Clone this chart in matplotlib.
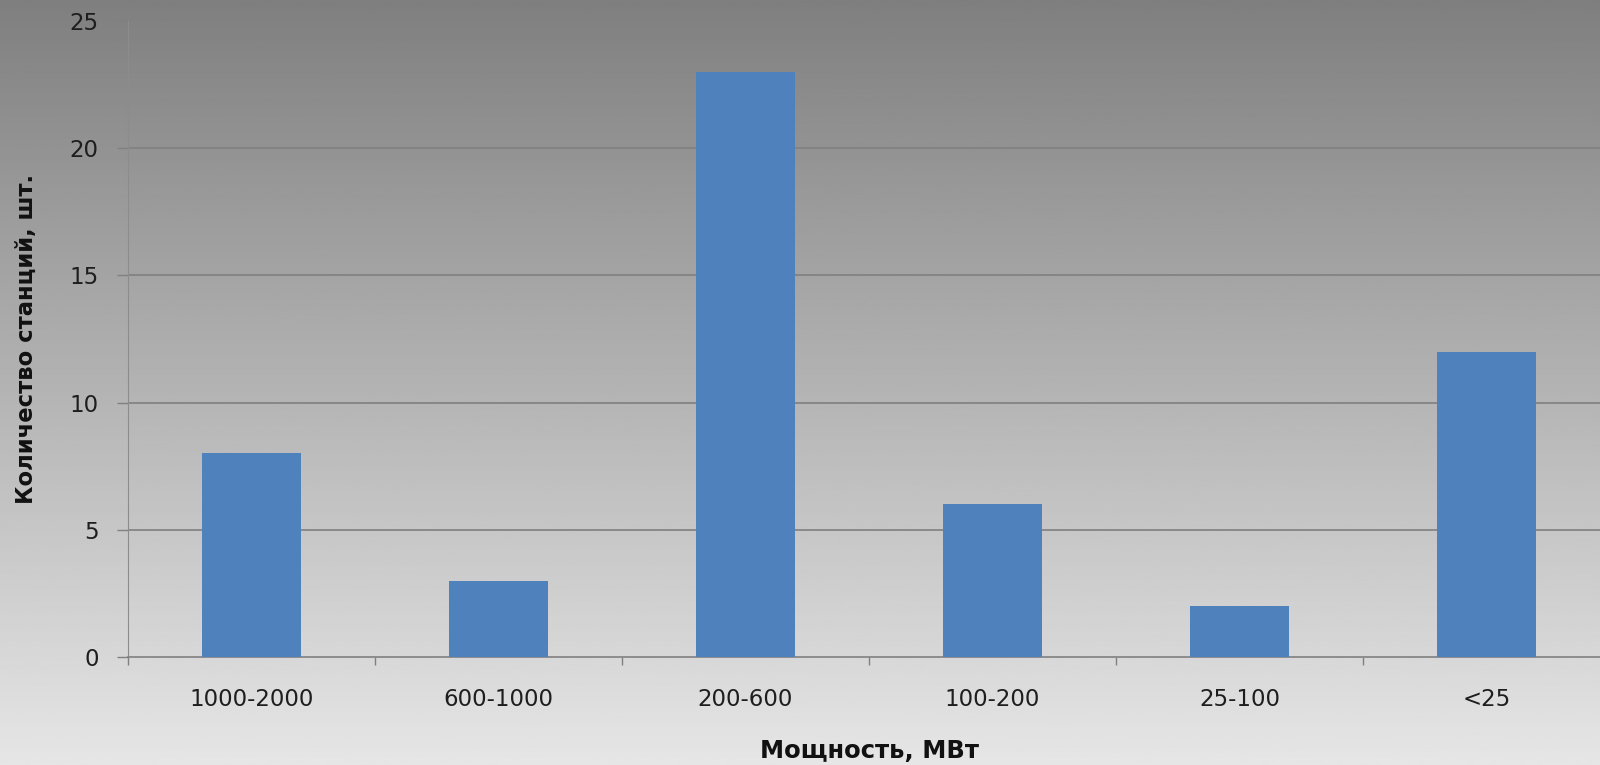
import numpy as np
import matplotlib
matplotlib.use("Agg")
import matplotlib.pyplot as plt

# Station counts by installed capacity range
categories = ["1000-2000", "600-1000", "200-600", "100-200", "25-100", "<25"]
station_counts = [8, 3, 23, 6, 2, 12]
y_ticks = [0, 5, 10, 15, 20, 25]

W, H, DPI = 1600, 765, 100
fig = plt.figure(figsize=(W / DPI, H / DPI), dpi=DPI)

# Vertical grey gradient behind the whole chart
bg = fig.add_axes([0, 0, 1, 1], zorder=0)
grad = np.linspace(230, 127, 256).reshape(-1, 1) / 255.0
bg.imshow(grad, cmap="gray", vmin=0, vmax=1, aspect="auto",
          extent=[0, 1, 0, 1], origin="lower")
bg.set_axis_off()

left, right = 128 / W, 1610 / W
bottom, top = 1 - 657 / H, 1 - 21 / H
ax = fig.add_axes([left, bottom, right - left, top - bottom], zorder=1)
ax.patch.set_alpha(0)

x = np.arange(len(categories))
ax.bar(x, station_counts, width=0.4, color="#4F81BD", zorder=3)

ax.set_xlim(-0.5, len(categories) - 0.5)
ax.set_ylim(0, 25)

grid_color = "#808080"
for v in y_ticks[1:-1]:
    ax.axhline(v, color=grid_color, lw=1.2, zorder=1)

for side in ["top", "right"]:
    ax.spines[side].set_visible(False)
ax.spines["left"].set_color("#8c8c8c")
ax.spines["bottom"].set_color(grid_color)
ax.spines["left"].set_linewidth(0.8)
ax.spines["bottom"].set_linewidth(1.2)

ax.set_yticks(y_ticks)
ax.set_yticklabels([str(t) for t in y_ticks])
ax.set_xticks(x)
ax.set_xticklabels(categories)
# tick marks sit on the category boundaries
ax.set_xticks(np.arange(len(categories) + 1) - 0.5, minor=True)
ax.tick_params(axis="x", which="major", length=0, pad=22)
ax.tick_params(axis="x", which="minor", length=6, color=grid_color, width=1)
ax.tick_params(axis="y", length=8, color=grid_color, width=1, pad=13)

for lab in ax.get_xticklabels() + ax.get_yticklabels():
    lab.set_fontfamily("DejaVu Sans")
    lab.set_fontsize(16.5)
    lab.set_color("#1e1e1e")

fig.text(870 / W, 1 - 751 / H, "Мощность, МВт", ha="center", va="center",
         fontsize=17.5, fontweight="bold", family="DejaVu Sans", color="#111111")
fig.text(26 / W, 1 - 339.5 / H, "Количество станций, шт.", ha="center", va="center",
         rotation=90, fontsize=16.3, fontweight="bold", family="DejaVu Sans",
         color="#111111")

fig.savefig("out.png", dpi=DPI)
